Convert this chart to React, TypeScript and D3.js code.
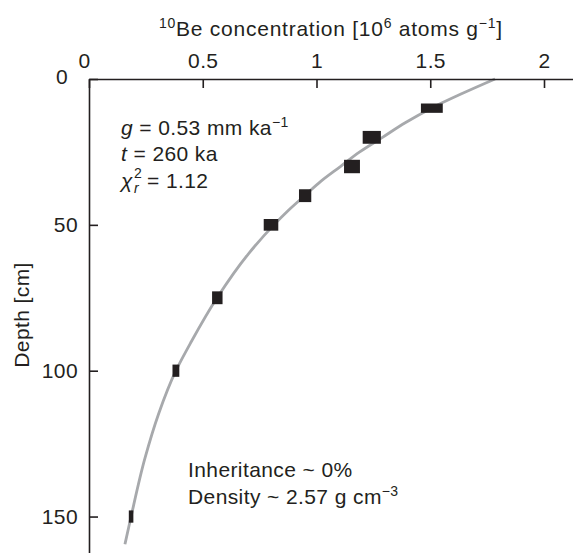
import { useEffect, useRef } from "react";
import * as d3 from "d3";

// measured samples
const sampleDepth = [10, 20, 30, 40, 50, 75, 100, 150];
const sampleConc = [1.507, 1.243, 1.156, 0.95, 0.8, 0.564, 0.382, 0.185];
const sampleConcErr = [0.048, 0.04, 0.035, 0.027, 0.032, 0.023, 0.015, 0.01];
const sampleDepthErr = [1.6, 2.2, 2.3, 2.2, 2.0, 2.2, 2.1, 2.1];

// model profile
const modelDepth = [0, 5, 10, 15, 20, 25, 30, 35, 40, 45, 50, 60, 75, 90, 100, 115, 130, 150, 159.5];
const modelConc = [1.785, 1.64, 1.505, 1.39, 1.29, 1.19, 1.105, 1.02, 0.948, 0.877, 0.813, 0.7, 0.563, 0.45, 0.382, 0.305, 0.246, 0.185, 0.158];

const xTicks = [0, 0.5, 1, 1.5, 2];
const yTicks = [0, 50, 100, 150];

const FONT = "'Liberation Sans', Arial, Helvetica, sans-serif";
const INK = "#231f20";
const FS = "21px";
const SUP = "14px";
const LS = "0.4px";

const App = () => {
  const svgRef = useRef<SVGSVGElement | null>(null);

  useEffect(() => {
    const svg = d3.select(svgRef.current);
    svg.selectAll("*").remove();

    const x = d3.scaleLinear().domain([0, 2.13]).range([89, 89 + 2.13 * 227.5]);
    const y = d3.scaleLinear().domain([0, 163]).range([79, 79 + 163 * 2.917]);

    // model curve
    const pts = modelDepth.map((d, i) => [modelConc[i], d] as [number, number]);
    const line = d3
      .line<[number, number]>()
      .x((d) => x(d[0]))
      .y((d) => y(d[1]))
      .curve(d3.curveMonotoneY);
    svg
      .append("path")
      .attr("d", line(pts))
      .attr("fill", "none")
      .attr("stroke", "#a7a9ac")
      .attr("stroke-width", 2.8);

    // samples
    svg
      .selectAll("rect.sample")
      .data(sampleDepth)
      .enter()
      .append("rect")
      .attr("class", "sample")
      .attr("x", (_d, i) => x(sampleConc[i] - sampleConcErr[i]))
      .attr("width", (_d, i) => x(sampleConc[i] + sampleConcErr[i]) - x(sampleConc[i] - sampleConcErr[i]))
      .attr("y", (d, i) => y(d - sampleDepthErr[i]))
      .attr("height", (d, i) => y(d + sampleDepthErr[i]) - y(d - sampleDepthErr[i]))
      .attr("fill", INK);

    // axes
    const xAxis = d3
      .axisTop(x)
      .tickValues(xTicks)
      .tickSize(-9)
      .tickSizeOuter(0)
      .tickPadding(11)
      .tickFormat((d) => String(d));
    const gx = svg.append("g").attr("transform", `translate(0,${y(0)})`).call(xAxis);

    const yAxis = d3
      .axisLeft(y)
      .tickValues(yTicks)
      .tickSize(-9)
      .tickSizeOuter(0)
      .tickPadding(11)
      .tickFormat((d) => String(d));
    const gy = svg.append("g").attr("transform", `translate(${x(0)},0)`).call(yAxis);

    [gx, gy].forEach((g) => {
      g.selectAll("path.domain").attr("stroke", INK).attr("stroke-width", 1.6);
      g.selectAll(".tick line").attr("stroke", INK).attr("stroke-width", 1.6);
      g.selectAll(".tick text")
        .attr("fill", INK)
        .style("font-family", FONT)
        .style("font-size", FS)
        .style("letter-spacing", LS);
    });
    // the two zeros sit off the corner
    gx.selectAll(".tick text").filter((d) => d === 0).attr("dx", -5);
    gy.selectAll(".tick text").filter((d) => d === 0).attr("dx", -10).attr("dy", "0.2em");

    const note = (xx: number, yy: number) =>
      svg
        .append("text")
        .attr("x", xx)
        .attr("y", yy)
        .attr("fill", INK)
        .style("font-family", FONT)
        .style("font-size", FS)
        .style("letter-spacing", LS);

    // titles
    const title = note(159, 36).style("letter-spacing", "0.75px");
    title.append("tspan").style("font-size", SUP).attr("dy", -8).text("10");
    title.append("tspan").attr("dy", 8).text("Be concentration [10");
    title.append("tspan").style("font-size", SUP).attr("dy", -8).text("6");
    title.append("tspan").attr("dy", 8).text(" atoms g");
    title.append("tspan").style("font-size", SUP).attr("dy", -8).text("−1");
    title.append("tspan").attr("dy", 8).text("]");

    svg
      .append("text")
      .attr("transform", `translate(29,315) rotate(-90)`)
      .attr("text-anchor", "middle")
      .attr("fill", INK)
      .style("font-family", FONT)
      .style("font-size", FS)
      .style("letter-spacing", LS)
      .text("Depth [cm]");

    // fit parameters
    const l1 = note(121, 135);
    l1.append("tspan").attr("font-style", "italic").text("g");
    l1.append("tspan").text(" = 0.53 mm ka");
    l1.append("tspan").style("font-size", SUP).attr("dy", -8).text("−1");

    const l2 = note(121, 161);
    l2.append("tspan").attr("font-style", "italic").text("t");
    l2.append("tspan").text(" = 260 ka");

    const l3 = note(121, 188);
    l3.append("tspan").attr("font-style", "italic").text("χ");
    note(134, 178).style("font-size", SUP).text("2");
    note(134, 193).style("font-size", SUP).attr("font-style", "italic").text("r");
    note(147, 188).text("= 1.12");

    note(188, 477).text("Inheritance ~ 0%");
    const l5 = note(188, 504);
    l5.append("tspan").text("Density ~ 2.57 g cm");
    l5.append("tspan").style("font-size", SUP).attr("dy", -8).text("−3");
  });

  return (
    <svg
      ref={svgRef}
      width={573}
      height={553}
      style={{ position: "absolute", left: 0, top: 0, background: "#fff" }}
    />
  );
};

export default App;
